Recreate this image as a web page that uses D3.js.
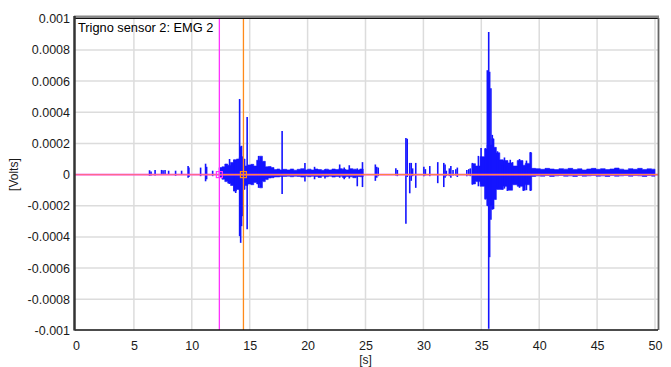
<!DOCTYPE html>
<html>
<head>
<meta charset="utf-8">
<script src="https://cdn.jsdelivr.net/npm/d3@7"></script>
<style>
body { margin: 0; background: #fff; }
svg { display: block; font-family: "Liberation Sans", Arial, sans-serif; }
</style>
</head>
<body>
<svg id="chart" width="671" height="367"></svg>
<script>
// EMG trace, values in microvolts, time in seconds
const onsetT  = [12.36, 12.6, 12.85, 13.1, 13.35, 13.6, 13.85, 14.1, 14.35, 14.6, 14.85, 15.1, 15.35, 15.6, 15.85, 16.1, 16.35, 16.6, 16.85, 17.1, 17.35, 17.6, 17.85, 18.2, 18.5, 18.8, 19.1, 19.4, 19.7, 20.0, 20.3, 20.6, 20.9, 21.2, 21.5, 21.8, 22.1, 22.4, 22.7, 23.0, 23.3, 23.6, 23.9, 24.2, 24.5, 24.8];
const onsetHi = [45, 50, 68, 60, 78, 95, 100, 110, 100, 55, 62, 66, 55, 92, 118, 85, 50, 52, 45, 32, 36, 30, 34, 30, 36, 28, 34, 38, 30, 35, 30, 36, 32, 28, 35, 30, 36, 32, 38, 34, 30, 38, 35, 30, 36, 30];
const onsetLo = [-18, -30, -45, -55, -70, -105, -95, -100, -95, -70, -60, -65, -50, -60, -85, -45, -32, -22, -20, -15, -15, -12, -12, -10, -14, -10, -12, -16, -10, -14, -10, -12, -18, -10, -14, -10, -16, -12, -10, -18, -12, -14, -20, -12, -14, -10];

const burstT  = [34.2, 34.5, 34.9, 35.3, 35.5, 35.9, 36.1, 36.3, 36.6, 36.9, 37.3, 37.7, 38.1, 38.6, 38.8, 39.2, 39.35, 39.7, 40.1, 40.5, 40.9, 41.3, 41.7, 42.1, 42.5, 42.9, 43.3, 43.7, 44.1, 44.5, 44.9, 45.3, 45.7, 46.1, 46.5, 46.9, 47.3, 47.7, 48.1, 48.5, 48.9, 49.3, 49.7, 50.0];
const burstHi = [70, 55, 115, 165, 190, 230, 175, 140, 95, 90, 75, 55, 90, 60, 72, 140, 40, 38, 34, 40, 36, 32, 38, 35, 40, 33, 37, 30, 36, 40, 34, 38, 32, 36, 42, 35, 30, 38, 34, 40, 33, 37, 35, 35];
const burstLo = [-60, -45, -75, -155, -200, -220, -160, -95, -95, -75, -100, -65, -75, -100, -65, -100, -12, -8, -10, -6, -12, -8, -5, -10, -8, -12, -6, -10, -8, -5, -10, -8, -12, -6, -10, -8, -5, -10, -6, -8, -12, -6, -10, -10];

const spikeT  = [6.35, 6.48, 6.83, 7.39, 7.52, 7.69, 8.0, 8.6, 9.12, 9.68, 9.75, 10.76, 11.19, 11.28, 11.8,
                 13.26, 13.66, 13.79, 14.13, 14.22, 14.3, 14.39, 14.78, 15.77, 17.8, 19.77, 20.6, 21.5, 22.77, 23.16, 23.6, 24.29, 24.74,
                 25.85, 25.97, 26.1, 27.62, 27.75, 28.49, 28.6, 28.82, 28.95, 29.07, 29.34, 30.04, 30.17, 30.55, 31.24, 31.76, 31.87, 31.98,
                 32.24, 32.37, 32.56, 32.8, 32.93, 33.75, 33.92, 34.05,
                 34.23, 34.75, 34.98, 35.35, 35.52, 35.64, 35.72, 35.83, 35.95, 36.4, 36.82, 37.0, 37.25, 37.5, 37.7, 38.3, 38.63, 38.9, 39.24];
const spikeHi = [28, 20, 30, 30, 28, 30, 25, 25, 25, 55, 45, 45, 70, 50, 25,
                 100, 96, 85, 485, 181, 185, 117, 370, 120, 280, 75, 50, 35, 65, 45, 60, 40, 80,
                 65, 50, 45, 40, 30, 235, 230, 75, 75, 40, 75, 50, 35, 55, 80, 75, 65, 25,
                 40, 55, 30, 35, 45, 30, 35, 40,
                 75, 120, 170, 170, 670, 915, 660, 555, 255, 150, 60, 110, 50, 95, 80, 100, 40, 90, 145];
const spikeLo = [-8, -5, -5, 0, 0, 0, 0, -8, 0, -20, -15, -10, -43, -30, -10,
                 -60, -107, -118, -395, -438, -331, -267, -350, -85, -125, -45, -30, -25, -20, -30, -25, -75, -80,
                 -40, -20, -10, -5, -10, -315, -15, -120, -40, -10, -85, -10, -5, -10, -55, -80, -20, -10,
                 -10, -20, -5, -5, -15, -10, -5, -10,
                 -65, -75, -60, -160, -200, -990, -530, -290, -225, -80, -95, -90, -105, -70, -40, -85, -105, -100, -105];

const xTicks = [0, 5, 10, 15, 20, 25, 30, 35, 40, 45, 50];
const yTicks = [-0.001, -0.0008, -0.0006, -0.0004, -0.0002, 0, 0.0002, 0.0004, 0.0006, 0.0008, 0.001];
const cursorA = 12.38, cursorB = 14.46;
const title = "Trigno sensor 2: EMG 2";

const svg = d3.select("#chart");
const L = 75, R = 658, T = 18, B = 330;
const x = d3.scaleLinear().domain([0, 50]).range([76, 655]);
const y = d3.scaleLinear().domain([-0.001, 0.001]).range([330.4, 18.8]);
const uv = v => y(v / 1e6);

svg.append("rect").attr("width", 671).attr("height", 367).attr("fill", "#fff");

// grid
const grid = svg.append("g").attr("stroke", "#dcdcdc").attr("stroke-width", 1.5);
grid.selectAll("line.v").data(xTicks.slice(1)).join("line")
    .attr("x1", d => x(d)).attr("x2", d => x(d)).attr("y1", T).attr("y2", B);
grid.selectAll("line.h").data(yTicks.slice(1, -1)).join("line")
    .attr("x1", L).attr("x2", R).attr("y1", d => y(d)).attr("y2", d => y(d));

const blue = "#1414ff";
const plot = svg.append("g");

const area = d3.area()
    .x(d => x(d[0])).y0(d => uv(d[2])).y1(d => uv(d[1]))
    .curve(d3.curveStepAfter);
[[onsetT, onsetHi, onsetLo], [burstT, burstHi, burstLo]].forEach(([ts, hs, ls]) => {
    plot.append("path")
        .datum(ts.map((t, i) => [t, hs[i], ls[i]]))
        .attr("fill", blue).attr("stroke", blue).attr("stroke-width", 0.6)
        .attr("d", area);
});

plot.selectAll("line.spike").data(spikeT.map((t, i) => [t, spikeHi[i], spikeLo[i]])).join("line")
    .attr("x1", d => x(d[0])).attr("x2", d => x(d[0]))
    .attr("y1", d => uv(d[1])).attr("y2", d => uv(d[2]))
    .attr("stroke", blue).attr("stroke-width", 1.6);

// cursors
svg.append("line").attr("x1", L).attr("x2", R).attr("y1", y(0)).attr("y2", y(0))
    .attr("stroke", "#ff40ff").attr("stroke-width", 1.8);
svg.append("line").attr("x1", L).attr("x2", x(cursorA)).attr("y1", y(0)).attr("y2", y(0))
    .attr("stroke", "#ff8a30").attr("stroke-width", 1.1).attr("opacity", 0.55);
svg.append("line").attr("x1", x(cursorA)).attr("x2", R).attr("y1", y(0)).attr("y2", y(0))
    .attr("stroke", "#ff8a30").attr("stroke-width", 1.2).attr("opacity", 0.9);
svg.append("line").attr("x1", x(cursorA)).attr("x2", x(cursorA)).attr("y1", T).attr("y2", B)
    .attr("stroke", "#ff33ff").attr("stroke-width", 1.3);
svg.append("line").attr("x1", x(cursorB)).attr("x2", x(cursorB)).attr("y1", T).attr("y2", B)
    .attr("stroke", "#ff8a1a").attr("stroke-width", 1.3);
svg.append("rect").attr("x", x(cursorA) - 3).attr("y", y(0) - 3).attr("width", 6).attr("height", 6)
    .attr("fill", "none").attr("stroke", "#ff33ff").attr("stroke-width", 1.2);
svg.append("rect").attr("x", x(cursorB) - 3).attr("y", y(0) - 3).attr("width", 6).attr("height", 6)
    .attr("fill", "none").attr("stroke", "#ff8a1a").attr("stroke-width", 1.2);

// frame
svg.append("line").attr("x1", L - 1).attr("x2", R + 1).attr("y1", T - 1.2).attr("y2", T - 1.2)
    .attr("stroke", "#888").attr("stroke-width", 2.5);
svg.append("line").attr("x1", L).attr("x2", R).attr("y1", T + 0.5).attr("y2", T + 0.5)
    .attr("stroke", "#111").attr("stroke-width", 1);
svg.append("line").attr("x1", R + 0.5).attr("x2", R + 0.5).attr("y1", T).attr("y2", B)
    .attr("stroke", "#666").attr("stroke-width", 1.8);
svg.append("line").attr("x1", L - 0.5).attr("x2", R).attr("y1", B).attr("y2", B)
    .attr("stroke", "#111").attr("stroke-width", 1.3);
svg.append("line").attr("x1", L - 0.5).attr("x2", L - 0.5).attr("y1", T - 2).attr("y2", B + 0.5)
    .attr("stroke", "#333").attr("stroke-width", 2.5);

// axes
const xAxis = svg.append("g").attr("transform", `translate(0,${B})`)
    .call(d3.axisBottom(x).tickValues(xTicks).tickSize(0).tickPadding(11));
const yAxis = svg.append("g").attr("transform", `translate(${L - 1},0)`)
    .call(d3.axisLeft(y).tickValues(yTicks).tickSize(0).tickPadding(4)
        .tickFormat(d => Math.abs(d) < 1e-12 ? "0" : String(+d.toFixed(4))));
[xAxis, yAxis].forEach(g => {
    g.select(".domain").remove();
    g.selectAll("text").attr("font-size", 12.5).attr("fill", "#1a1a1a")
        .attr("font-family", "'Liberation Sans', Arial, sans-serif");
});

svg.append("text").attr("x", x(25)).attr("y", 364).attr("text-anchor", "middle")
    .attr("font-size", 12).attr("fill", "#1a1a1a").text("[s]");
svg.append("text").attr("transform", `translate(18,${y(0)}) rotate(-90)`)
    .attr("text-anchor", "middle").attr("font-size", 12).attr("fill", "#1a1a1a").text("[Volts]");
svg.append("text").attr("x", 78).attr("y", 31.5)
    .attr("font-size", 12.8).attr("fill", "#000").text(title);
</script>
</body>
</html>
